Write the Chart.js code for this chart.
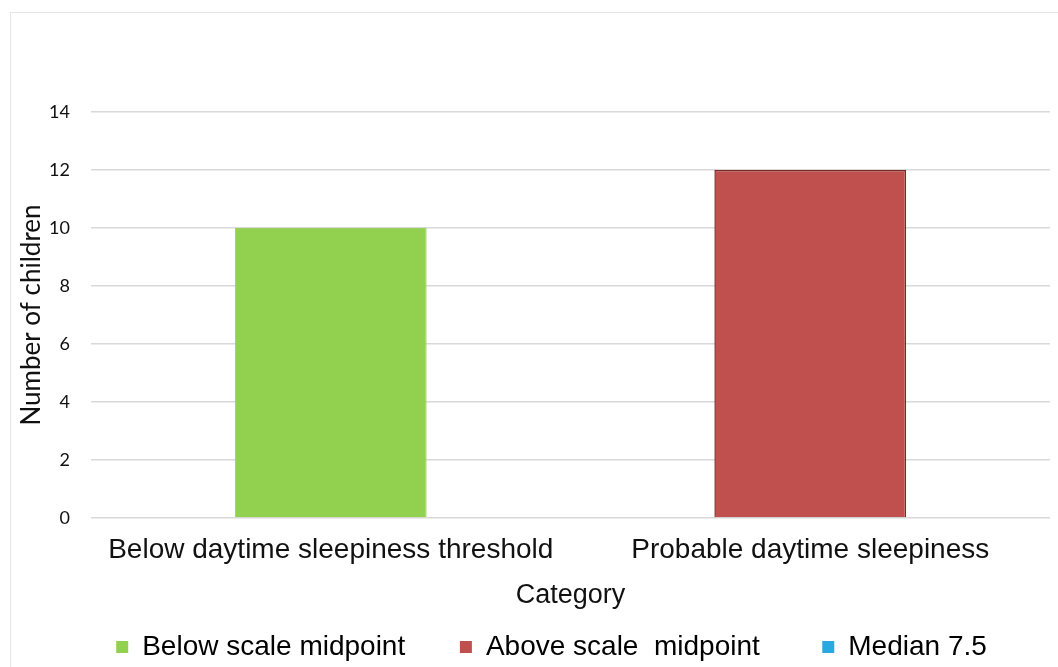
<!DOCTYPE html>
<html>
<head>
<meta charset="utf-8">
<script src="https://cdn.jsdelivr.net/npm/chart.js@4.4.1/dist/chart.umd.min.js"></script>
<style>
  html, body { margin: 0; padding: 0; background: #fff; overflow: hidden; }
  #wrap { position: relative; width: 1058px; height: 667px; }
  #frame {
    position: absolute; left: 10px; top: 12px; width: 1100px; height: 700px;
    border: 1px solid #e6e6e6; box-sizing: border-box;
  }
  canvas { position: absolute; left: 0; top: 0; }
</style>
</head>
<body>
<div id="wrap">
  <div id="frame"></div>
  <canvas id="chart" width="1058" height="667"></canvas>
</div>
<script>
// ── Data ───────────────────────────────────────────────────────────────────────

const categories   = ["Below daytime sleepiness threshold", "Probable daytime sleepiness"];
const belowValues  = [10, null];
const aboveValues  = [null, 12];
const medianValues = [null, null];
const seriesNames  = ["Below scale midpoint", "Above scale  midpoint", "Median 7.5"];
const yTicks       = [0, 2, 4, 6, 8, 10, 12, 14];

// ── Chart ──────────────────────────────────────────────────────────────────────

const labelFont = "'Liberation Sans', Arial, sans-serif";
const tickFont  = "Lato, 'Open Sans', sans-serif";

// nudge the legend a bit right/down so it sits where the original one is
const legendNudge = {
    id: "legendNudge",
    beforeDraw: chart => {
        const lg = chart.legend;
        if (!lg || lg._nudged) return;
        lg.left += 20; lg.right += 20;
        lg.top  += 4;  lg.bottom += 4;
        lg._nudged = true;
    }
};

new Chart(document.getElementById("chart"), {
    type: "bar",
    data: {
        labels: categories,
        datasets: [
            {
                label: seriesNames[0],
                data: belowValues,
                backgroundColor: "#92d050",
                borderColor: "#9ccf5f",
                borderWidth: 1
            },
            {
                label: seriesNames[1],
                data: aboveValues,
                backgroundColor: "#c0504d",
                borderColor: "#7e2624",
                borderWidth: 1.5
            },
            {
                label: seriesNames[2],
                data: medianValues,
                backgroundColor: "#2aa8e0",
                borderColor: "#2aa8e0",
                borderWidth: 1
            }
        ]
    },
    plugins: [legendNudge],
    options: {
        responsive: false,
        animation: false,
        devicePixelRatio: 1,
        datasets: { bar: { barPercentage: 0.4, categoryPercentage: 1.0 } },
        layout: { padding: { left: 13, right: 8, top: 112, bottom: 0 } },
        plugins: {
            tooltip: { enabled: false },
            legend: {
                position: "bottom",
                labels: {
                    color: "#000",
                    font: { family: labelFont, size: 28 },
                    boxWidth: 12,
                    boxHeight: 12,
                    padding: 8,
                    generateLabels: chart => {
                        const items = Chart.defaults.plugins.legend.labels.generateLabels(chart);
                        const gaps = [6, 7, 0];
                        items.forEach((it, i) => {
                            it.text = it.text + "\u00a0".repeat(gaps[i] || 0);
                            it.lineWidth = 0;
                        });
                        return items;
                    }
                }
            }
        },
        scales: {
            x: {
                stacked: true,
                grid: { display: false },
                border: { display: false },
                ticks: {
                    color: "#111",
                    font: { family: labelFont, size: 28 },
                    padding: 7,
                    maxRotation: 0
                },
                title: {
                    display: true,
                    text: "Category",
                    color: "#111",
                    font: { family: labelFont, size: 27 },
                    padding: { top: 4, bottom: 9 }
                },
                afterFit: s => { s.height = 103; }
            },
            y: {
                stacked: true,
                min: 0,
                max: 14,
                afterBuildTicks: s => { s.ticks = yTicks.map(v => ({ value: v })); },
                grid: { color: "#d9d9d9", lineWidth: 1.5, drawTicks: false },
                border: { display: false },
                ticks: {
                    color: "#111",
                    font: { family: tickFont, size: 18 },
                    padding: 21
                },
                title: {
                    display: true,
                    text: "Number of children",
                    color: "#111",
                    font: { family: tickFont, size: 26 },
                    padding: { top: 3, bottom: 4 }
                },
                afterFit: s => { s.width = 78; }
            }
        }
    }
});
</script>
</body>
</html>
